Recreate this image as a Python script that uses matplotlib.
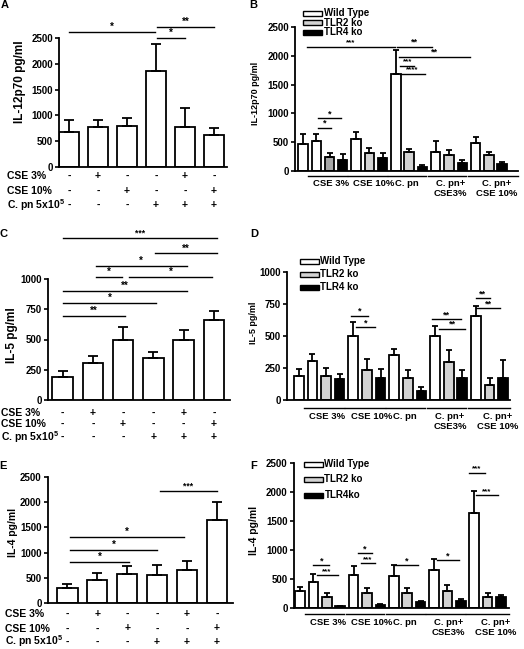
import matplotlib
matplotlib.use("Agg")
import matplotlib.pyplot as plt
from matplotlib.patches import Rectangle
from matplotlib.transforms import blended_transform_factory
import numpy as np

plt.rcParams['font.family'] = ['Liberation Sans', 'DejaVu Sans']
plt.rcParams['font.weight'] = 'bold'
plt.rcParams['mathtext.fontset'] = 'custom'
plt.rcParams['mathtext.rm'] = 'Liberation Sans:bold'
plt.rcParams['mathtext.it'] = 'Liberation Sans:bold'
plt.rcParams['mathtext.bf'] = 'Liberation Sans:bold'

# ---------------- data ----------------
row_labels = ["CSE 3%", "CSE 10%", "C. pn 5x10$^5$"]
cse3_signs = ["-", "+", "-", "-", "+", "-"]
cse10_signs = ["-", "-", "+", "-", "-", "+"]
cpn_signs = ["-", "-", "-", "+", "+", "+"]

il12_mean = [680, 780, 800, 1870, 770, 620]
il12_top = [920, 910, 940, 2385, 1150, 760]
il5_mean = [186, 307, 497, 351, 500, 660]
il5_top = [240, 361, 606, 400, 578, 738]
il4_mean = [294, 447, 576, 559, 659, 1645]
il4_top = [370, 588, 729, 747, 841, 2010]

group_labels = ["CSE 3%", "CSE 10%", "C. pn", "C. pn+\nCSE3%", "C. pn+\nCSE 10%"]
series_names_B = ["Wild Type", "TLR2 ko", "TLR4 ko"]
series_names_D = ["Wild Type", "TLR2 ko", "TLR4 ko"]
series_names_F = ["Wild Type", "TLR2 ko", "TLR4ko"]

# first WT value is the untreated control
B_wt = [468, 525, 555, 1680, 335, 480]
B_wt_top = [640, 642, 683, 2100, 521, 596]
B_tlr2 = [249, 306, 322, 278, 278]
B_tlr2_top = [318, 393, 376, 365, 336]
B_tlr4 = [191, 220, 65, 144, 116]
B_tlr4_top = [300, 306, 102, 185, 151]

D_wt = [186, 307, 497, 351, 500, 660]
D_wt_top = [240, 361, 606, 400, 578, 738]
D_tlr2 = [186, 237, 175, 299, 121]
D_tlr2_top = [253, 317, 237, 387, 175]
D_tlr4 = [163, 175, 67, 168, 175]
D_tlr4_top = [204, 245, 103, 232, 315]

F_wt = [294, 447, 576, 559, 659, 1645]
F_wt_top = [370, 588, 729, 747, 841, 2010]
F_tlr2 = [188, 259, 259, 294, 188]
F_tlr2_top = [253, 341, 341, 394, 253]
F_tlr4 = [35, 53, 112, 118, 188]
F_tlr4_top = [41, 65, 123, 159, 223]

# significance: (x1, x2, y, label)
sig_A = [(0, 2.95, 2620, "*"), (3.05, 5, 2720, "**"), (3.05, 4, 2500, "*")]
sig_C = [(0, 5.1, 1340, "***"), (3.05, 5.1, 1212, "**"), (1.1, 4.1, 1110, "*"),
         (1.1, 1.95, 1014, "*"), (2.2, 4.95, 1014, "*"), (0, 4.1, 903, "**"),
         (0, 3.1, 799, "*"), (0, 2.05, 694, "**")]
sig_E = [(3.1, 5.0, 2222, "***"), (0.1, 3.9, 1303, "*"), (0.1, 3.0, 1051, "*"),
         (0.1, 2.05, 819, "*")]
sig_B = [(0.3, 6.95, 2158, "***"), (7.1, 9.7, 2158, "**"), (7.2, 12.6, 1984, "**"),
         (7.3, 8.4, 1828, "***"), (7.3, 9.2, 1690, "****"), (1.1, 2.9, 915, "*"),
         (1.1, 2.1, 752, "*")]
sig_D = [(3.8, 5.1, 658, "*"), (4.2, 5.6, 569, "*"), (9.75, 11.9, 632, "**"),
         (10.3, 12.2, 558, "**"), (13.0, 14.0, 796, "**"), (13.0, 14.8, 718, "**")]
sig_F = [(1.0, 2.2, 736, "*"), (1.25, 2.8, 572, "***"), (4.3, 5.35, 943, "*"),
         (4.55, 5.6, 777, "***"), (7.1, 8.8, 736, "*"), (10.2, 11.9, 824, "*"),
         (12.6, 13.8, 2333, "***"), (13.1, 14.8, 1948, "***")]

# ---------------- figure ----------------
W, H = 524, 649
fig = plt.figure(figsize=(W / 100, H / 100), dpi=100)
LW = 1.3
GRAY = '#d2d2d2'


def fx(x):
    return x / W


def fy(y):
    return 1 - y / H


def add_ax(l, r, t, b):
    return fig.add_axes([l / W, 1 - b / H, (r - l) / W, (b - t) / H])


def style(ax, yticks, xlim, tsize=7):
    for s in ['top', 'right']:
        ax.spines[s].set_visible(False)
    for s in ['left', 'bottom']:
        ax.spines[s].set_linewidth(LW)
    ax.set_xlim(*xlim)
    ax.set_ylim(yticks[0], yticks[-1])
    ax.set_yticks(yticks)
    ax.set_yticklabels([str(v) for v in yticks], fontweight='bold')
    ax.tick_params(axis='y', length=3, width=1.2, labelsize=tsize, pad=1.5)
    ax.tick_params(axis='x', length=0, labelbottom=False)


def draw_sig(ax, sigs, fs=7):
    for x1, x2, y, lab in sigs:
        ax.plot([x1, x2], [y, y], color='black', lw=1.0, clip_on=False, zorder=5)
        f = fs if len(lab) < 3 else fs - 0.8
        ax.text((x1 + x2) / 2, y, lab, ha='center', va='bottom', fontsize=f,
                fontweight='bold', clip_on=False, zorder=5)


def left_panel(box, means, tops, yticks, xlim, sigs, rows_y, rows_x0, capsize=3.5):
    ax = add_ax(*box)
    x = np.arange(len(means))
    means = np.array(means)
    tops = np.array(tops)
    ax.bar(x, means, width=0.68, color='white', edgecolor='black', linewidth=LW, zorder=2)
    ax.errorbar(x, means, yerr=[np.zeros(len(x)), tops - means], fmt='none', ecolor='black',
                elinewidth=LW, capsize=capsize, capthick=LW, zorder=3)
    style(ax, yticks, xlim)
    draw_sig(ax, sigs)
    tr = blended_transform_factory(ax.transData, fig.transFigure)
    for lab, signs, yy in zip(row_labels, [cse3_signs, cse10_signs, cpn_signs], rows_y):
        fig.text(fx(rows_x0), fy(yy), lab, ha='left', va='center', fontsize=7.5, fontweight='bold')
        for xi, s in zip(x, signs):
            ax.text(xi, fy(yy), s, transform=tr, ha='center', va='center', fontsize=7.5,
                    fontweight='bold', clip_on=False)
    return ax


def right_panel(box, wt, wt_top, t2, t2_top, t4, t4_top, yticks, xlim, sigs,
                line_off, lab_off, lab_x, names, leg_x, leg_y, t2_colors=None):
    ax = add_ax(*box)
    wt_slots, t2_slots, t4_slots = [0], [], []
    pos = 1
    for g in range(len(group_labels)):
        wt_slots.append(pos)
        t2_slots.append(pos + 1)
        t4_slots.append(pos + 2)
        pos += 3
    if t2_colors is None:
        t2_colors = [GRAY] * len(t2)
    for slots, m, tp, fc in [(wt_slots, wt, wt_top, 'white'),
                             (t2_slots, t2, t2_top, t2_colors),
                             (t4_slots, t4, t4_top, 'black')]:
        m = np.array(m)
        tp = np.array(tp)
        ax.bar(slots, m, width=0.71, color=fc, edgecolor='black', linewidth=LW, zorder=2)
        ax.errorbar(slots, m, yerr=[np.zeros(len(m)), tp - m], fmt='none', ecolor='black',
                    elinewidth=LW, capsize=2.2, capthick=LW, zorder=3)
    style(ax, yticks, xlim)
    draw_sig(ax, sigs, fs=6.5)
    axh = box[3] - box[2]
    tr = blended_transform_factory(ax.transData, ax.transAxes)
    for g, lab in enumerate(group_labels):
        first = wt_slots[g + 1]
        last = t4_slots[g]
        x2 = last + 0.3 if g < len(group_labels) - 1 else xlim[1]
        ax.plot([first - 0.6, x2], [-line_off / axh] * 2, transform=tr, color='black',
                lw=1.0, clip_on=False)
        ax.text(lab_x[g], -(line_off + lab_off) / axh, lab, transform=tr, ha='center',
                va='top', fontsize=6.8, fontweight='bold', linespacing=1.15, clip_on=False)
    # legend
    for i, (nm, fc) in enumerate(zip(names, ['white', GRAY, 'black'])):
        yc = leg_y[i]
        fig.add_artist(Rectangle((fx(leg_x), fy(yc + 2.5)), 19 / W, 5 / H, transform=fig.transFigure,
                                 facecolor=fc, edgecolor='black', lw=1.0))
        fig.text(fx(leg_x + 21), fy(yc), nm, ha='left', va='center', fontsize=7, fontweight='bold')
    return ax


lab_x = [2.1, 5.35, 7.8, 11.1, 14.6]

# Panel A
left_panel((59, 227, 38, 167), il12_mean, il12_top, [0, 500, 1000, 1500, 2000, 2500],
           (-0.345, 5.45), sig_A, [176, 191, 205], 7)
# Panel C
left_panel((48, 230, 279, 400), il5_mean, il5_top, [0, 250, 500, 750, 1000],
           (-0.48, 5.53), sig_C, [412.7, 424.3, 437.3], 1)
# Panel E
left_panel((48, 233, 477, 603), il4_mean, il4_top, [0, 500, 1000, 1500, 2000, 2500],
           (-0.65, 5.54), sig_E, [614, 628.5, 641.5], 5)

# Panel B
right_panel((295, 518, 27, 171), B_wt, B_wt_top, B_tlr2, B_tlr2_top, B_tlr4, B_tlr4_top,
            [0, 500, 1000, 1500, 2000, 2500], (-0.6, 16.2), sig_B, 5, 3, lab_x,
            series_names_B, 303, [13.3, 22.7, 32.3],
            t2_colors=['#a8a8a8', GRAY, GRAY, GRAY, GRAY])
# Panel D
right_panel((287, 510, 272, 400), D_wt, D_wt_top, D_tlr2, D_tlr2_top, D_tlr4, D_tlr4_top,
            [0, 250, 500, 750, 1000], (-0.86, 15.5), sig_D, 8, 4, lab_x,
            series_names_D, 299.5, [261, 274, 287])
# Panel F
right_panel((294, 509, 463, 608), F_wt, F_wt_top, F_tlr2, F_tlr2_top, F_tlr4, F_tlr4_top,
            [0, 500, 1000, 1500, 2000, 2500], (-0.45, 15.6), sig_F, 6, 4, lab_x,
            series_names_F, 303.5, [464, 479.3, 495])

# y labels
for x, y, txt, fs in [(20, 82, "IL-12p70 pg/ml", 8.5), (256, 93, "IL-12p70 pg/ml", 6.5),
                      (12, 335, "IL-5 pg/ml", 8.5), (253, 323, "IL-5 pg/ml", 6.5),
                      (13, 532, "IL-4 pg/ml", 7.5), (254, 530, "IL-4 pg/ml", 7.5)]:
    fig.text(fx(x), fy(y), txt, rotation=90, ha='center', va='center', fontsize=fs,
             fontweight='bold')

# panel letters
for x, y, t in [(5, 5.5, "A"), (253, 5.5, "B"), (3.5, 234, "C"), (254, 234, "D"),
                (3, 466, "E"), (254, 466, "F")]:
    fig.text(fx(x), fy(y), t, ha='center', va='center', fontsize=8, fontweight='bold')

fig.savefig("out.png", dpi=100)
